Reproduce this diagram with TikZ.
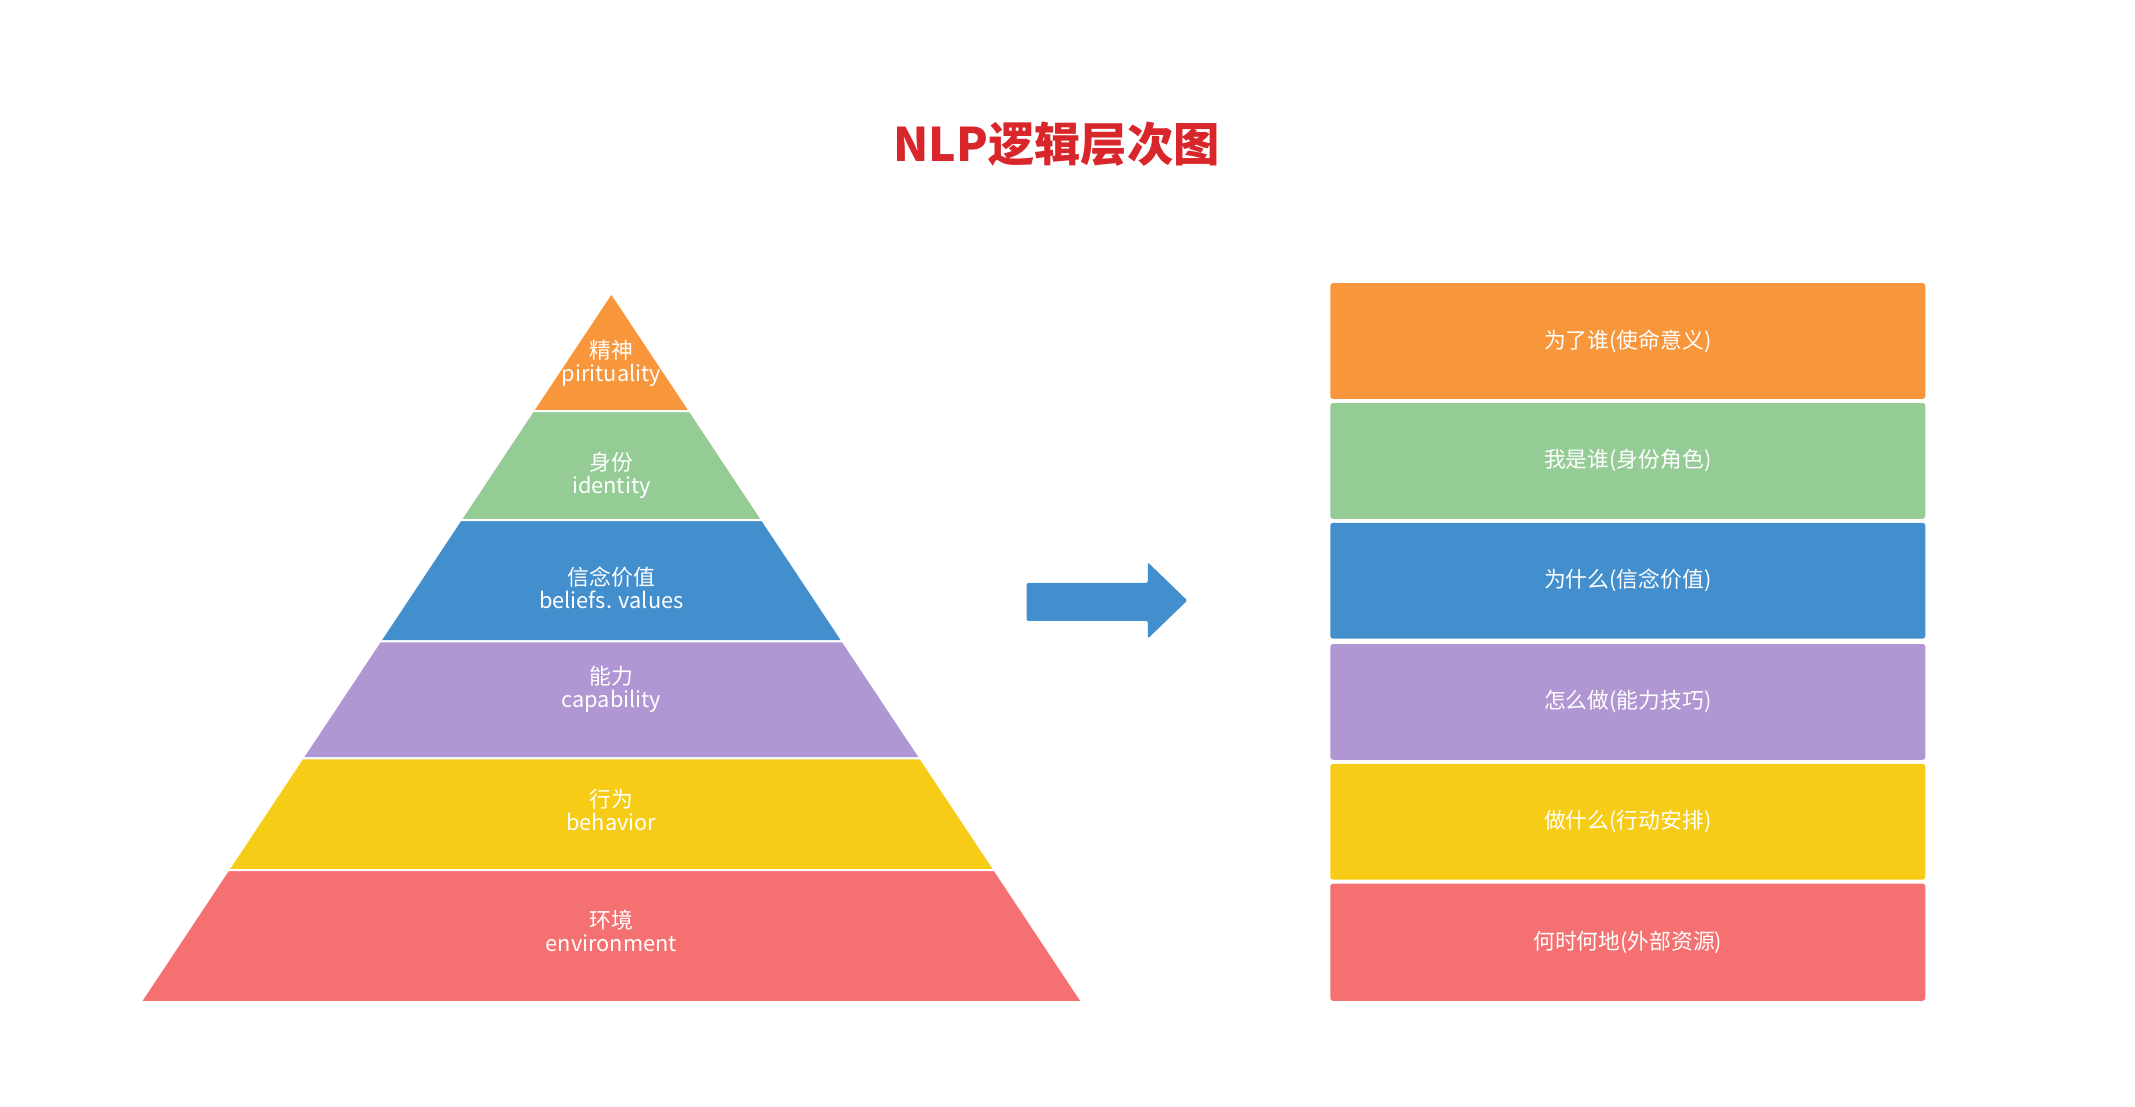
\documentclass[tikz,border=0pt]{standalone}
\usepackage{fontspec}
\setmainfont{Noto Sans CJK SC}
\definecolor{cO}{HTML}{F8963C}
\definecolor{cG}{HTML}{95CB95}
\definecolor{cB}{HTML}{438FCD}
\definecolor{cP}{HTML}{B096D3}
\definecolor{cY}{HTML}{F7CC17}
\definecolor{cR}{HTML}{F57070}
\definecolor{cT}{HTML}{D9262B}
\tikzset{layer/.style={draw=white,line width=1.5pt,line join=round},
 lbl/.style={text=white,font=\fontsize{16}{20}\selectfont,align=center},
 rbox/.style={rounded corners=2pt,minimum width=437pt,minimum height=85pt,inner sep=0pt,lbl}}
\begin{document}
\begin{tikzpicture}[x=1pt,y=-1pt]
\useasboundingbox (0,0) rectangle (1568,813);
\node[text=cT,font=\bfseries\fontsize{34}{40}\selectfont] (title) at (776,106) {NLP逻辑层次图};
% pyramid
\fill[cO,layer] (449,215) -- (506.8,302) -- (391.2,302) -- cycle;
\fill[cG,layer] (391.2,302) -- (506.8,302) -- (559.9,382) -- (338.1,382) -- cycle;
\fill[cB,layer] (338.1,382) -- (559.9,382) -- (619,471) -- (279,471) -- cycle;
\fill[cP,layer] (279,471) -- (619,471) -- (676.1,557) -- (221.9,557) -- cycle;
\fill[cY,layer] (221.9,557) -- (676.1,557) -- (730.5,639) -- (167.5,639) -- cycle;
\fill[cR,layer] (167.5,639) -- (730.5,639) -- (794.9,736) -- (103.1,736) -- cycle;
\node[lbl,inner sep=0pt] (p1) at (449,267) {精神\\[-3pt]pirituality};
\node[lbl] (p2) at (449,349) {身份\\[-3pt]identity};
\node[lbl] (p3) at (449,432) {信念价值\\[-3pt]beliefs. values};
\node[lbl] (p4) at (449,506) {能力\\[-3pt]capability};
\node[lbl] (p5) at (449,595) {行为\\[-3pt]behavior};
\node[lbl] (p6) at (449,684) {环境\\[-3pt]environment};
% arrow
\fill[cB,rounded corners=1pt] (754,428) -- (843,428) -- (843,413) -- (872,441) -- (843,469) -- (843,456) -- (754,456) -- cycle;
% boxes
\node[rbox,fill=cO] (b1) at (1195.5,250.5) {为了谁(使命意义)};
\node[rbox,fill=cG] (b2) at (1195.5,338.5) {我是谁(身份角色)};
\node[rbox,fill=cB] (b3) at (1195.5,426.5) {为什么(信念价值)};
\node[rbox,fill=cP] (b4) at (1195.5,515.5) {怎么做(能力技巧)};
\node[rbox,fill=cY] (b5) at (1195.5,603.5) {做什么(行动安排)};
\node[rbox,fill=cR,minimum height=86pt] (b6) at (1195.5,692) {何时何地(外部资源)};
\end{tikzpicture}
\end{document}
